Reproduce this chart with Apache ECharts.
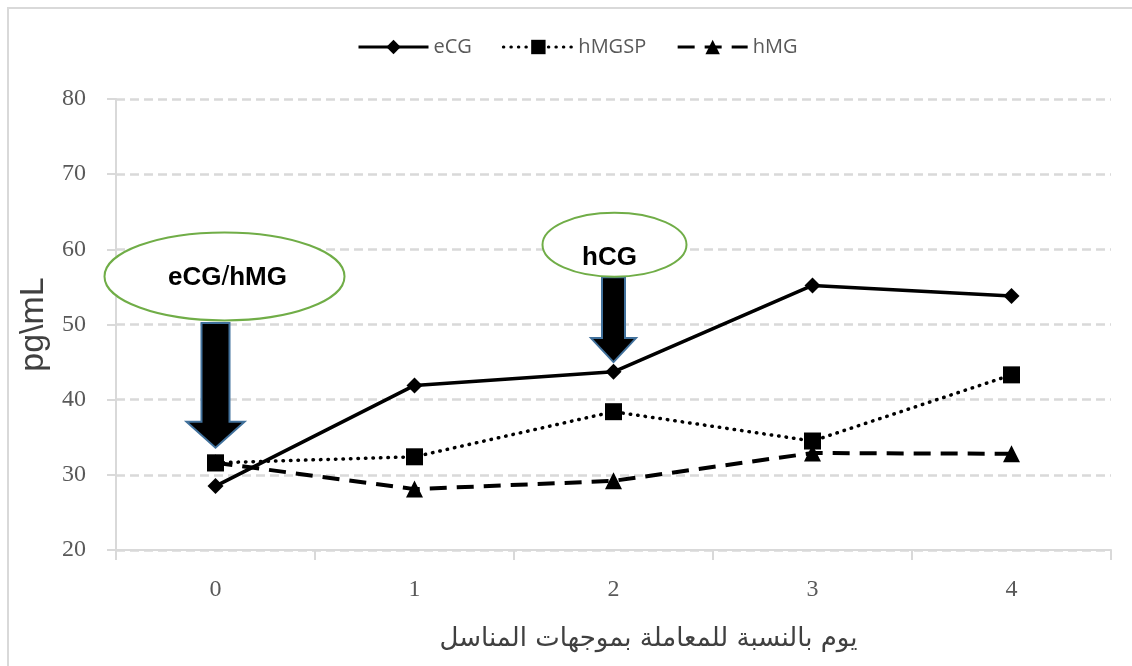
<!DOCTYPE html>
<html>
<head>
<meta charset="utf-8">
<script src="https://cdn.jsdelivr.net/npm/echarts@6/dist/echarts.min.js"></script>
<style>
  html, body { margin: 0; padding: 0; background: #fff; }
  #chart { width: 1132px; height: 666px; }
  .frame { position: absolute; left: 7px; top: 7px; width: 1140px; height: 680px; border: 2px solid #d9d9d9; box-sizing: border-box; pointer-events: none; }
</style>
</head>
<body>
<div id="chart"></div>
<div class="frame"></div>
<script>
// days relative to treatment
const days = ["0", "1", "2", "3", "4"];
const eCG = [28.5, 41.9, 43.7, 55.2, 53.8];
const hMGSP = [31.6, 32.4, 38.4, 34.5, 43.3];
const hMG = [31.6, 28.1, 29.2, 32.9, 32.8];
const yTicks = [20, 30, 40, 50, 60, 70, 80];

// arrow annotations (day index, value at ellipse centre, arrow top, arrow tip)
const noteLabels = ["eCG/hMG", "hCG"];
const noteDays = [0, 2];
const noteCenterValues = [56.4, 60.6];
const noteTopValues = [50.2, 56.3];
const noteTipValues = [33.6, 45.0];

let chartDom = document.getElementById("chart");
let myChart = echarts.init(chartDom);

const options = {
  animation: false,
  backgroundColor: "#fff",
  legend: {
    top: 32,
    left: 352,
    itemWidth: 70,
    itemHeight: 18,
    itemGap: 30,
    lineStyle: { width: 3 },
    textStyle: { color: "#595959", fontSize: 20, fontFamily: "Open Sans" },
    data: ["eCG", "hMGSP", "hMG"],
  },
  grid: { left: 116, right: 21, top: 99, bottom: 116 },
  xAxis: {
    type: "category",
    data: days,
    boundaryGap: true,
    name: "يوم بالنسبة للمعاملة بموجهات المناسل",
    nameLocation: "middle",
    nameGap: 76,
    nameTextStyle: { color: "#404040", fontSize: 26, fontFamily: "DejaVu Sans", padding: [0, 0, 0, 70] },
    axisLine: { lineStyle: { color: "#d9d9d9", width: 2 } },
    axisTick: { show: true, length: 10, lineStyle: { color: "#d9d9d9", width: 2 } },
    axisLabel: { color: "#595959", fontSize: 24, fontFamily: "Liberation Serif", margin: 28 },
  },
  yAxis: {
    type: "value",
    min: yTicks[0],
    max: yTicks[yTicks.length - 1],
    interval: 10,
    name: "pg\\mL",
    nameLocation: "middle",
    nameGap: 62,
    nameTextStyle: { color: "#404040", fontSize: 34, fontFamily: "Liberation Sans" },
    axisLine: { show: true, lineStyle: { color: "#d9d9d9", width: 2 } },
    axisTick: { show: true, length: 9, lineStyle: { color: "#d9d9d9", width: 2 } },
    axisLabel: { color: "#595959", fontSize: 24, fontFamily: "Liberation Serif", margin: 30 },
    splitLine: { lineStyle: { color: "#d9d9d9", width: 2.5, type: [9, 5] } },
  },
  series: [
    {
      name: "eCG",
      type: "line",
      data: eCG,
      symbol: "diamond",
      symbolSize: 16,
      itemStyle: { color: "#000" },
      lineStyle: { color: "#000", width: 3.5 },
      z: 3,
    },
    {
      name: "hMGSP",
      type: "line",
      data: hMGSP,
      symbol: "rect",
      symbolSize: 17,
      itemStyle: { color: "#000" },
      lineStyle: { color: "#000", width: 3.5, type: [0.5, 7], cap: "round" },
      z: 4,
    },
    {
      name: "hMG",
      type: "line",
      data: hMG,
      symbol: "triangle",
      symbolSize: 17,
      itemStyle: { color: "#000" },
      lineStyle: { color: "#000", width: 4, type: [17, 10] },
      z: 2,
    },
  ],
};
myChart.setOption(options);

// annotation sizes
const ellipseR = [[120, 44], [72, 32]];
const ellipseDx = [9, 1];
const textDx = [3, -5];
const textDy = [1, 13];
const shaftW = [28, 23];
const headW = [58, 45];
const headH = [26, 24];
const fontSizes = [26, 26];

const graphics = [];
noteLabels.forEach((label, i) => {
  const c = myChart.convertToPixel({ gridIndex: 0 }, [noteDays[i], noteCenterValues[i]]);
  const top = myChart.convertToPixel({ gridIndex: 0 }, [noteDays[i], noteTopValues[i]]);
  const tip = myChart.convertToPixel({ gridIndex: 0 }, [noteDays[i], noteTipValues[i]]);
  const x = tip[0];
  const sw = shaftW[i] / 2, hw = headW[i] / 2;
  const shaftEnd = tip[1] - headH[i];
  graphics.push({
    type: "polygon",
    z: 10,
    shape: {
      points: [
        [x - sw, top[1]], [x + sw, top[1]], [x + sw, shaftEnd], [x + hw, shaftEnd],
        [x, tip[1]], [x - hw, shaftEnd], [x - sw, shaftEnd],
      ],
    },
    style: { fill: "#000", stroke: "#41719c", lineWidth: 2 },
  });
  graphics.push({
    type: "ellipse",
    z: 11,
    shape: { cx: c[0] + ellipseDx[i], cy: c[1], rx: ellipseR[i][0], ry: ellipseR[i][1] },
    style: { fill: "#fff", stroke: "#70ad47", lineWidth: 2 },
  });
  // slash drawn in regular weight, words in bold
  const rich = label.split("/").map((p) => "{b|" + p + "}").join("{s|/}");
  graphics.push({
    type: "text",
    z: 12,
    x: c[0] + ellipseDx[i] + textDx[i],
    y: c[1] + textDy[i],
    style: {
      text: rich,
      fill: "#000",
      align: "center",
      verticalAlign: "middle",
      rich: {
        b: { fontSize: fontSizes[i], fontWeight: "bold", fontFamily: "Liberation Sans", fill: "#000" },
        s: { fontSize: fontSizes[i] + 2, fontWeight: "normal", fontFamily: "Liberation Sans", fill: "#000" },
      },
    },
  });
});
myChart.setOption({ graphic: graphics });
</script>
</body>
</html>
